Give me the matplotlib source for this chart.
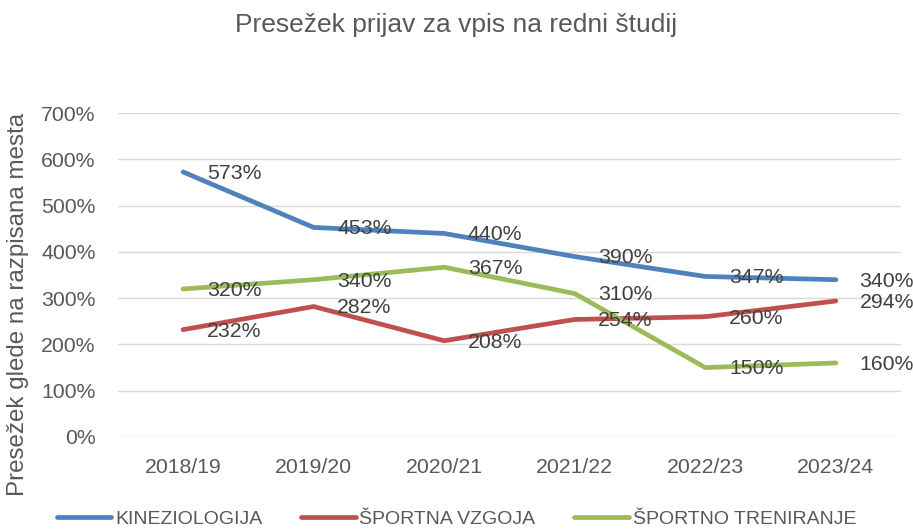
import matplotlib.pyplot as plt
from matplotlib import font_manager

names = {f.name for f in font_manager.fontManager.ttflist}
main_font = "Liberation Sans" if "Liberation Sans" in names else "DejaVu Sans"
narrow_font = "Liberation Sans Narrow" if "Liberation Sans Narrow" in names else main_font
plt.rcParams["font.family"] = [main_font, "DejaVu Sans"]

# data
years = ["2018/19", "2019/20", "2020/21", "2021/22", "2022/23", "2023/24"]
kineziologija = [573, 453, 440, 390, 347, 340]
sportna_vzgoja = [232, 282, 208, 254, 260, 294]
sportno_treniranje = [320, 340, 367, 310, 150, 160]

series = [
    ("KINEZIOLOGIJA", kineziologija, "#4F81BD"),
    ("ŠPORTNA VZGOJA", sportna_vzgoja, "#C0504D"),
    ("ŠPORTNO TRENIRANJE", sportno_treniranje, "#9BBB59"),
]

fig = plt.figure(figsize=(9.13, 5.29), dpi=100)
ax = fig.add_axes([0.129, 0.174, 0.858, 0.612])

x = list(range(len(years)))
for name, vals, col in series:
    ax.plot(x, vals, color=col, lw=3.4, label=name, solid_capstyle="round")
    for xi, v in zip(x, vals):
        ax.annotate(f"{v}%", (xi, v), xytext=(17, -1), textcoords="offset points",
                    ha="left", va="center", fontsize=15.3, color="#404040")

ax.set_xlim(-0.5, 5.5)
ax.set_ylim(0, 700)
ax.set_yticks(range(0, 701, 100))
ax.set_yticklabels([f"{v}%" for v in range(0, 701, 100)])
ax.set_xticks(x)
ax.set_xticklabels(years)
ax.tick_params(length=0, labelsize=15.3, labelcolor="#595959")
ax.tick_params(axis="x", pad=15)
ax.tick_params(axis="y", pad=16)
ax.grid(axis="y", color="#D9D9D9", lw=1)
ax.set_axisbelow(True)
for s in ax.spines.values():
    s.set_visible(False)

ax.set_ylabel("Presežek glede na razpisana mesta", fontsize=17.4, color="#595959")
ax.yaxis.set_label_coords(-0.113, 0.41)
fig.text(0.5, 0.952, "Presežek prijav za vpis na redni študij", ha="center", va="center",
         fontsize=19, color="#595959")

fig.legend(loc="center", bbox_to_anchor=(0.5, 0.018), ncol=3, frameon=False,
           handlelength=2.8, handletextpad=0.2, columnspacing=2.0,
           prop={"family": narrow_font, "size": 14}, labelcolor="#595959")

fig.savefig("out.png", dpi=100)
